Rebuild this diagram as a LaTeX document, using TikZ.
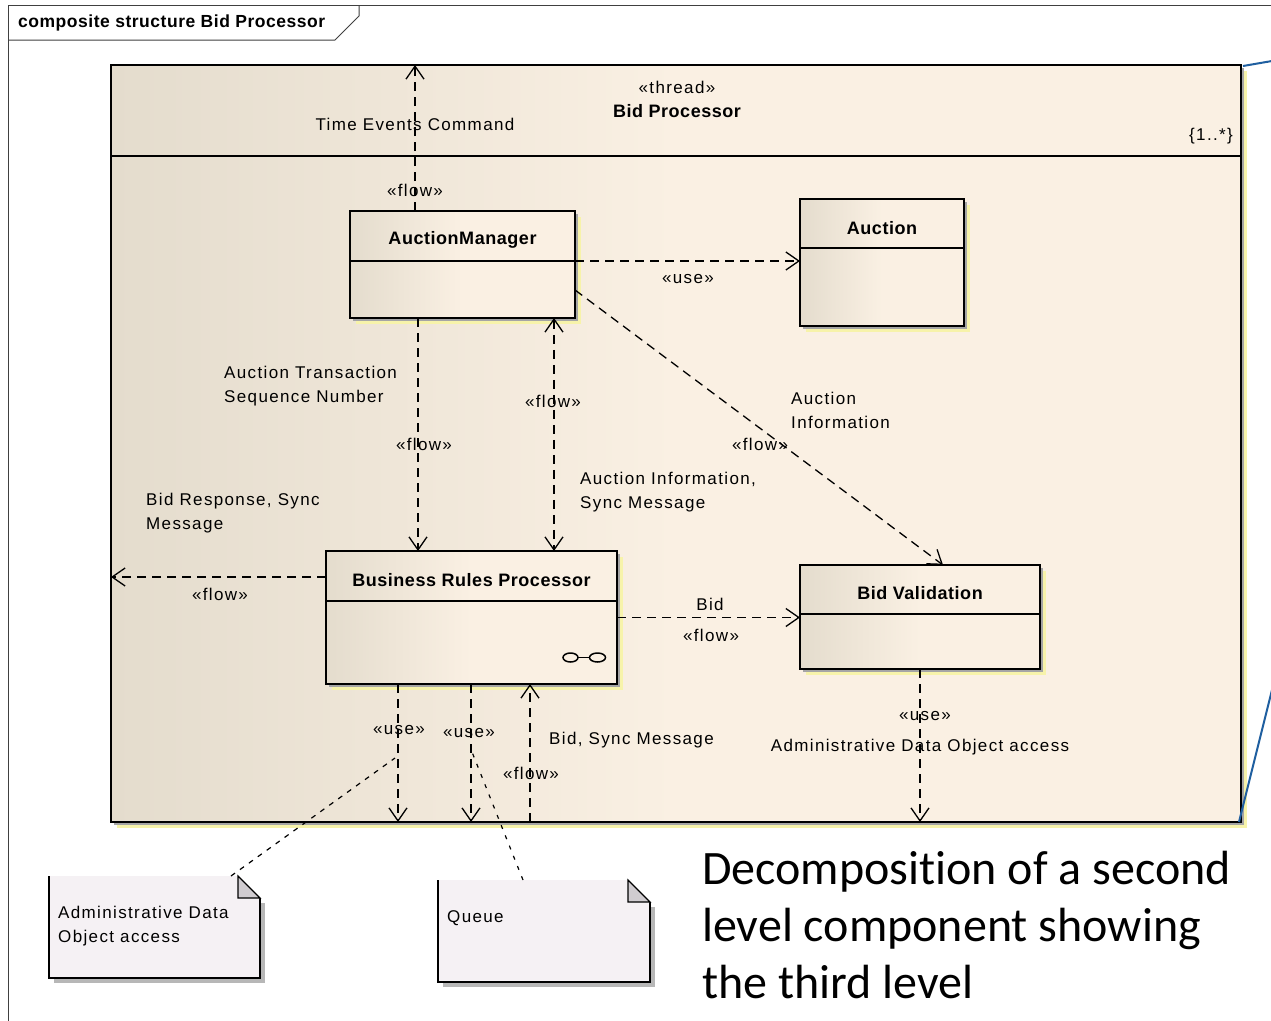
\documentclass[tikz,border=0pt]{standalone}
\usepackage{fontspec}
\setmainfont{Liberation Sans}
\newfontfamily\lbl{Liberation Sans}[LetterSpace=8]
\newfontfamily\ttlfont{Liberation Sans}[LetterSpace=3]
\newfontfamily\capfont{Carlito}[Ligatures=NoCommon]
\usetikzlibrary{arrows.meta,calc}
\definecolor{clsL}{RGB}{228,220,205}
\definecolor{clsR}{RGB}{250,240,227}
\definecolor{yshadow}{RGB}{247,243,170}
\definecolor{gshadow}{RGB}{165,165,165}
\definecolor{notefill}{RGB}{245,241,244}
\definecolor{foldc}{RGB}{208,204,208}
\definecolor{calloutblue}{RGB}{31,95,160}
\pgfdeclarelayer{bg}
\pgfdeclarelayer{back}
\pgfdeclarelayer{mid}
\pgfsetlayers{bg,back,mid,main}
\begin{document}
\begin{tikzpicture}[x=1pt,y=-1pt,
  cls/.style={draw=black, line width=1.8pt, outer sep=0pt, inner sep=0pt,
    left color=clsL, right color=clsR, middle color=clsR},
  ttl/.style={font=\ttlfont\bfseries\fontsize{18}{21}\selectfont, inner sep=0pt},
  lab/.style={font=\lbl\fontsize{17}{24}\selectfont, inner sep=0pt},
  labl/.style={lab, align=left, anchor=west},
  conn/.style={line width=1.3pt, dash pattern=on 9pt off 6pt},
  tip/.style={-{Straight Barb[length=13pt,width=18pt]}},
  notelink/.style={line width=1.2pt, dash pattern=on 5pt off 6pt},
  notebox/.style={outer sep=0pt, inner sep=0pt},
  shY/.style={fill=yshadow},
  shG/.style={fill=gshadow},
]
\useasboundingbox (0,0) rectangle (1271,1020);
\begin{pgfonlayer}{bg}
\fill[white] (0,0) rectangle (1271,1020);
\end{pgfonlayer}

% outer diagram frame
\draw[line width=1pt, black!75] (8,1022) -- (8,5) -- (1273,5);
\node[font=\ttlfont\bfseries\fontsize{17.5}{20}\selectfont, anchor=west, inner sep=0pt] (tab) at (18,23) {composite structure Bid Processor};
\draw[line width=1pt, black!75] (8,40) -- (335,40) -- (359,16) -- (359,5);

% main part
\begin{pgfonlayer}{back}
\node[cls, minimum width=1130pt, minimum height=757pt] (bp) at (676,443.5) {};
\end{pgfonlayer}
\begin{pgfonlayer}{bg}
\fill[shY] ([xshift=6pt,yshift=-6pt]bp.north west) rectangle ([xshift=6pt,yshift=-6pt]bp.south east);
\fill[shG] ([xshift=3pt,yshift=-3pt]bp.north west) rectangle ([xshift=3pt,yshift=-3pt]bp.south east);
\end{pgfonlayer}
\coordinate (hsep) at (0,156);
\draw[line width=1.8pt] (bp.west |- hsep) -- (bp.east |- hsep);
\node[lab] (thr) at (677,87) {«thread»};
\node[ttl] (bpt) at (677,111) {Bid Processor};
\node[lab] (mult) at (1211,136) {\{1..*\}};

% classes
\node[cls, minimum width=225pt, minimum height=107pt] (am) at (462.5,264.5) {};
\node[cls, minimum width=164pt, minimum height=127pt] (auc) at (882,262.5) {};
\node[cls, minimum width=291pt, minimum height=133pt] (brp) at (471.5,617.5) {};
\node[cls, minimum width=240pt, minimum height=104pt] (bv) at (920,617) {};
\foreach \n/\d in {am/50,auc/49,brp/50,bv/49}{
  \draw[line width=1.6pt] ([yshift=-\d pt]\n.north west) -- ([yshift=-\d pt]\n.north east);
}
\begin{pgfonlayer}{mid}
  \foreach \n in {am,auc,brp,bv}{
    \fill[shY] ([xshift=6pt,yshift=-6pt]\n.north west) rectangle ([xshift=6pt,yshift=-6pt]\n.south east);
    \fill[shG] ([xshift=3pt,yshift=-3pt]\n.north west) rectangle ([xshift=3pt,yshift=-3pt]\n.south east);
  }
\end{pgfonlayer}
\node[ttl] (amt) at ([yshift=-29pt]am.north) {AuctionManager};
\node[ttl] (auct) at ([yshift=-29pt]auc.north) {Auction};
\node[ttl] (brpt) at ([yshift=-29pt]brp.north) {Business Rules Processor};
\node[ttl] (bvt) at ([yshift=-28pt]bv.north) {Bid Validation};

% composite icon
\draw[line width=1.5pt] (570.5,657.5) ellipse (7.5pt and 4.5pt);
\draw[line width=1.5pt] (597.5,657.5) ellipse (8pt and 4.5pt);
\draw[line width=1.5pt] (578,657.5) -- (589.5,657.5);

% notes
\node[notebox, minimum width=211pt, minimum height=102pt] (n1) at (154.5,927) {};
\node[notebox, minimum width=212pt, minimum height=102pt] (n2) at (544,931) {};
\foreach \n in {n1,n2}{
  \fill[gshadow!80] ([xshift=5pt,yshift=-27pt]\n.north east) rectangle ([xshift=5pt,yshift=-5pt]\n.south west);
  \fill[notefill] (\n.north west) -- ([xshift=-22pt]\n.north east) -- ([yshift=-22pt]\n.north east) -- (\n.south east) -- (\n.south west) -- cycle;
  \draw[line width=1.5pt] (\n.north west) -- (\n.south west) -- (\n.south east) -- ([yshift=-22pt]\n.north east);
  \filldraw[fill=foldc, line width=1.2pt] ([xshift=-22pt]\n.north east) -- ([yshift=-22pt]\n.north east) -- ([xshift=-22pt,yshift=-22pt]\n.north east) -- cycle;
}
\node[labl] (n1t) at (58,926) {Administrative Data\\Object access};
\node[labl] (n2t) at (447,918) {Queue};

% connectors
\coordinate (c1) at ([xshift=65pt]am.north west);
\draw[conn, tip] (c1) -- (c1 |- bp.north);
\node[lab] (tec) at (415,124) {Time Events Command};
\node[lab] (f1) at (415,190) {«flow»};

\coordinate (c2) at ([yshift=-50pt]am.north east);
\draw[conn, tip] (c2) -- (c2 -| auc.west);
\node[lab] (u2) at (688,279) {«use»};

\draw[conn, tip] ([yshift=-79pt]am.north east) -- ([xshift=143pt]bv.north west);
\node[labl] (ai) at (791,410) {Auction\\Information};
\node[lab] (f3) at (760,444) {«flow»};

\coordinate (c4) at ([xshift=68pt]am.south west);
\draw[conn, tip] (c4) -- (c4 |- brp.north);
\node[labl] (ats) at (224,386) {Auction Transaction\\Sequence Number};
\node[lab] (f4) at (424,444) {«flow»};

\coordinate (c5) at ([xshift=204pt]am.south west);
\draw[conn, {Straight Barb[length=13pt,width=18pt]}-{Straight Barb[length=13pt,width=18pt]}] (c5) -- (c5 |- brp.north);
\node[lab] (f5) at (553,401) {«flow»};
\node[labl] (ais) at (580,492) {Auction Information,\\Sync Message};

\coordinate (c6) at ([yshift=-26pt]brp.north west);
\draw[conn, tip] (c6) -- (c6 -| bp.west);
\node[labl] (brs) at (146,513) {Bid Response, Sync\\Message};
\node[lab] (f6) at (220,594) {«flow»};

\draw[conn, tip] (brp.east) -- (brp.east -| bv.west);
\node[lab] (bid) at (710,604) {Bid};
\node[lab] (f7) at (711,635) {«flow»};

\coordinate (c8) at ([xshift=72pt]brp.south west);
\draw[conn, tip] (c8) -- (c8 |- bp.south);
\node[lab] (u8) at (399,730) {«use»};

\coordinate (c9) at ([xshift=145pt]brp.south west);
\draw[conn, tip] (c9) -- (c9 |- bp.south);
\node[lab] (u9) at (469,733) {«use»};

\coordinate (c10) at ([xshift=204pt]brp.south west);
\draw[conn, tip] (c10 |- bp.south) -- (c10);
\node[lab] (f10) at (531,773) {«flow»};
\node[labl] (bsm) at (549,740) {Bid, Sync Message};

\draw[conn, tip] (bv.south) -- (bv.south |- bp.south);
\node[lab] (u11) at (925,716) {«use»};
\node[lab] (ado) at (920,747) {Administrative Data Object access};

% note links
\coordinate (l1) at (395,758);
\coordinate (l2) at (472,752);
\draw[notelink] ([xshift=-29pt]n1.north east) -- (l1);
\draw[line width=1.2pt, dash pattern=on 4pt off 7pt] ([xshift=-21pt]n2.north) -- (l2);

% callout lines
\coordinate (b1) at (1272,61);
\coordinate (b2) at (1272,690);
\draw[calloutblue, line width=2pt] ([xshift=2pt,yshift=-1pt]bp.north east) -- (b1);
\draw[calloutblue, line width=2pt] ([xshift=-2pt]bp.south east) -- (b2);

% caption
\node[anchor=west, align=left, inner sep=0pt, font=\capfont\fontsize{48}{57}\selectfont] (cap) at (702,925)
  {Decomposition of a second\\level component showing\\the third level};
\end{tikzpicture}
\end{document}
